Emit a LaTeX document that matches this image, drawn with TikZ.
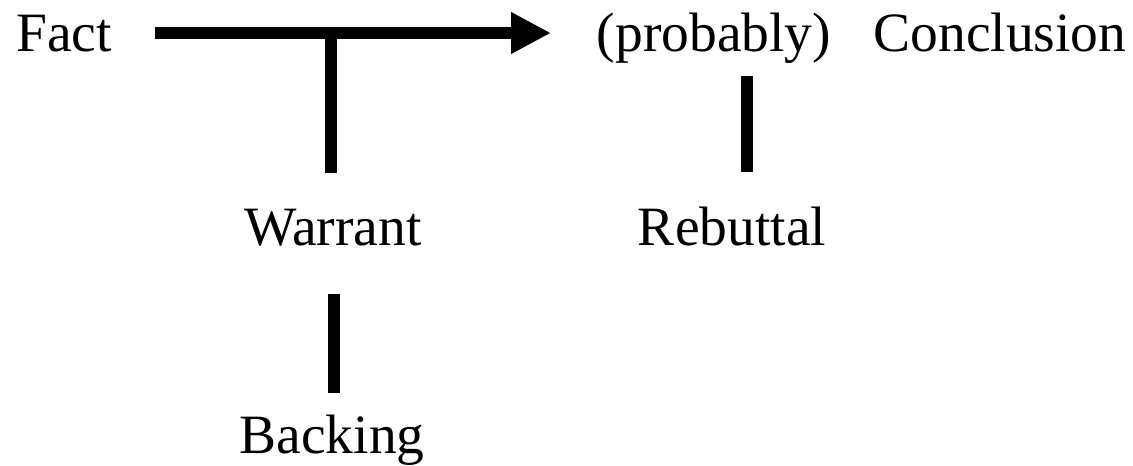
\documentclass[tikz,border=0pt]{standalone}
\usepackage{fontspec}
\setmainfont{Liberation Serif}
\usetikzlibrary{arrows.meta}
\tikzset{
  word/.style={inner sep=0pt,anchor=base,font=\fontsize{27.75pt}{33pt}\selectfont},
  bar/.style={line width=6pt},
}
\begin{document}
\begin{tikzpicture}[x=0.5pt,y=-0.5pt]
    \useasboundingbox (0,0) rectangle (1133,465);
    \node[word] (fact)       at (  64, 52) {Fact};
    \node[word] (probably)   at ( 714, 52) {(probably)};
    \node[word] (conclusion) at (1000, 52) {Conclusion};
    \node[word] (warrant)    at ( 333,245) {Warrant};
    \node[word] (rebuttal)   at ( 732,245) {Rebuttal};
    \node[word] (backing)    at ( 332,453) {Backing};
    \coordinate (claimfrom)  at ( 155, 33);
    \coordinate (claimto)    at ( 551, 33);
    \coordinate (warranttop) at ( 331, 33);
    \coordinate (rebuttaltop) at ( 747, 76);
    \draw[bar,-{Triangle[length=20pt,width=19.5pt]}] (claimfrom) -- (claimto);
    \draw[bar,shorten >=17.5pt] (warranttop) -- (warranttop |- warrant.north);
    \draw[bar,shorten >=17pt]   (rebuttaltop) -- (rebuttaltop |- rebuttal.north);
    \draw[bar,shorten <=24pt,shorten >=10.5pt] ([xshift=0.5pt]warrant.south) -- ([xshift=0.5pt]warrant.south |- backing.north);
  \end{tikzpicture}
\end{document}
